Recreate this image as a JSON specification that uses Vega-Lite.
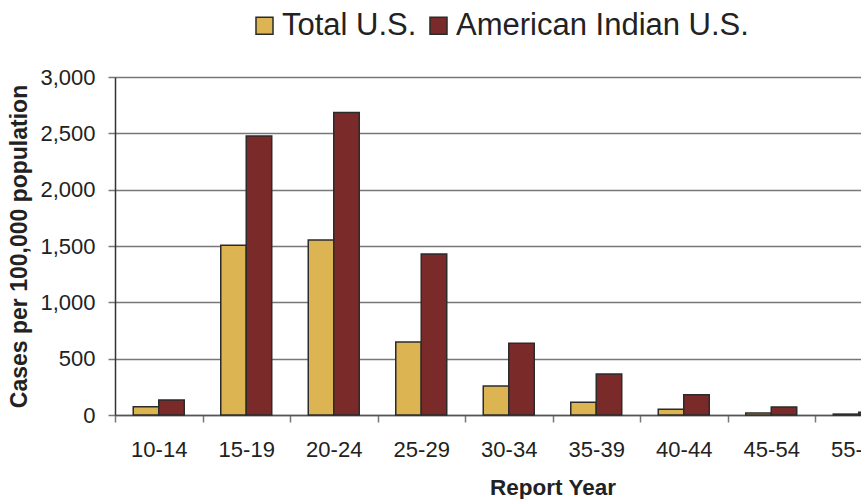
{
  "$schema": "https://vega.github.io/schema/vega-lite/v6.json",
  "autosize": "none",
  "width": 875,
  "height": 338,
  "padding": {"left": 115, "top": 77, "right": 0, "bottom": 84},
  "background": "white",
  "data": {
    "values": [
      {"age": "10-14", "group": "Total U.S.", "rate": 74},
      {"age": "10-14", "group": "American Indian U.S.", "rate": 133},
      {"age": "15-19", "group": "Total U.S.", "rate": 1506},
      {"age": "15-19", "group": "American Indian U.S.", "rate": 2476},
      {"age": "20-24", "group": "Total U.S.", "rate": 1553},
      {"age": "20-24", "group": "American Indian U.S.", "rate": 2686},
      {"age": "25-29", "group": "Total U.S.", "rate": 648},
      {"age": "25-29", "group": "American Indian U.S.", "rate": 1429},
      {"age": "30-34", "group": "Total U.S.", "rate": 257},
      {"age": "30-34", "group": "American Indian U.S.", "rate": 636},
      {"age": "35-39", "group": "Total U.S.", "rate": 113},
      {"age": "35-39", "group": "American Indian U.S.", "rate": 364},
      {"age": "40-44", "group": "Total U.S.", "rate": 51},
      {"age": "40-44", "group": "American Indian U.S.", "rate": 180},
      {"age": "45-54", "group": "Total U.S.", "rate": 18},
      {"age": "45-54", "group": "American Indian U.S.", "rate": 71},
      {"age": "55-64", "group": "Total U.S.", "rate": 8},
      {"age": "55-64", "group": "American Indian U.S.", "rate": 25},
      {"age": "65+", "group": "Total U.S.", "rate": 2},
      {"age": "65+", "group": "American Indian U.S.", "rate": 8}
    ]
  },
  "mark": {"type": "bar", "stroke": "#2b2b2b", "strokeWidth": 1.5},
  "encoding": {
    "x": {
      "field": "age",
      "type": "nominal",
      "sort": null,
      "scale": {"paddingInner": 0, "paddingOuter": 0},
      "axis": {
        "title": "Report Year",
        "titleFont": "Liberation Sans",
        "titleFontSize": 22.5,
        "titleFontWeight": "bold",
        "titleColor": "#222",
        "titlePadding": 16,
        "labelFont": "Liberation Sans",
        "labelFontSize": 22,
        "labelColor": "#222",
        "labelAngle": 0,
        "labelPadding": 17,
        "tickBand": "extent",
        "tickSize": 7,
        "tickColor": "#777",
        "tickWidth": 1.5,
        "domainColor": "#555",
        "domainWidth": 1.5,
        "grid": false
      }
    },
    "xOffset": {
      "field": "group",
      "type": "nominal",
      "sort": ["Total U.S.", "American Indian U.S."],
      "scale": {"paddingInner": 0, "paddingOuter": 0.716}
    },
    "y": {
      "field": "rate",
      "type": "quantitative",
      "scale": {"domain": [0, 3000], "nice": false},
      "axis": {
        "title": "Cases per 100,000 population",
        "titleFont": "Liberation Sans",
        "titleFontSize": 23,
        "titleFontWeight": "bold",
        "titleColor": "#222",
        "titlePadding": 8,
        "labelFont": "Liberation Sans",
        "labelFontSize": 22,
        "labelColor": "#222",
        "labelPadding": 13,
        "values": [0, 500, 1000, 1500, 2000, 2500, 3000],
        "format": ",.0f",
        "tickSize": 7,
        "tickColor": "#777",
        "tickWidth": 1.5,
        "domainColor": "#333",
        "domainWidth": 1.5,
        "grid": true,
        "gridColor": "#777",
        "gridWidth": 1.5
      }
    },
    "color": {
      "field": "group",
      "type": "nominal",
      "sort": ["Total U.S.", "American Indian U.S."],
      "scale": {"domain": ["Total U.S.", "American Indian U.S."], "range": ["#DDB452", "#7B2A2A"]},
      "legend": {
        "title": null,
        "orient": "none",
        "direction": "horizontal",
        "legendX": 134,
        "legendY": -67,
        "symbolType": "square",
        "symbolSize": 290,
        "symbolStrokeColor": "#2b2b2b",
        "symbolStrokeWidth": 1.5,
        "symbolOpacity": 1,
        "labelFont": "Liberation Sans",
        "labelFontSize": 31,
        "labelColor": "#222",
        "labelLimit": 500,
        "labelOffset": 2,
        "columnPadding": 6
      }
    }
  },
  "config": {"view": {"stroke": null}}
}
